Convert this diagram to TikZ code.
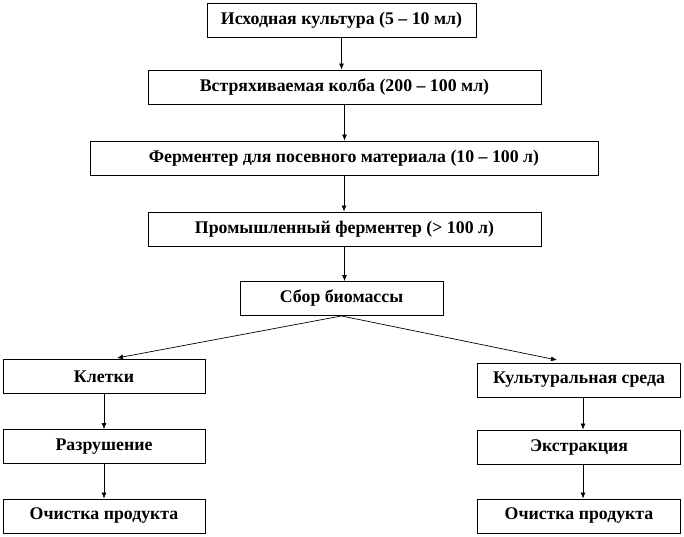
\documentclass[tikz,border=0pt]{standalone}
\usepackage{fontspec}
\setmainfont{Liberation Serif}
\usetikzlibrary{arrows.meta}

\begin{document}
\begin{tikzpicture}[x=1pt, y=-1pt, >={Latex[length=6pt,width=5pt]}]
	\tikzstyle{stage}=[draw, line width=0.9pt, inner sep=0pt, minimum height=34pt, font=\fontsize{17.8}{20}\selectfont\bfseries]
	\tikzstyle{flow}=[->, line width=0.7pt]
	\useasboundingbox (0,0) rectangle (684,536);
	\draw 
	node[stage, minimum width=269pt](A)at(341.5,20){Исходная культура (5 – 10 мл)}
	node[stage, minimum width=393pt](B)at(344.5,87){Встряхиваемая колба (200 – 100 мл)}
	node[stage, minimum width=508pt](C)at(344,158){Ферментер для посевного материала (10 – 100 л)}
	node[stage, minimum width=393pt](D)at(344.5,229){Промышленный ферментер (> 100 л)}
	node[stage, minimum width=203pt](E)at(341.5,298.5){Сбор биомассы}
	node[stage, minimum width=202pt](F)at(104,376.5){Клетки}
	node[stage, minimum width=202pt](G)at(104,446.5){Разрушение}
	node[stage, minimum width=202pt](H)at(104,516){Очистка продукта}
	node[stage, minimum width=203pt](I)at(579,380){Культуральная среда}
	node[stage, minimum width=203pt](J)at(579,447){Экстракция}
	node[stage, minimum width=203pt](K)at(579,516){Очистка продукта};
	
	\coordinate (FL) at (117,358);
	\coordinate (IL) at (557,360);
	
	\draw[flow](A.south)--(A.south |- B.north);
	\draw[flow](B.south)--(B.south |- C.north);
	\draw[flow](C.south)--(C.south |- D.north);
	\draw[flow](D.south)--(D.south |- E.north);
	\draw[flow](E.south)--(FL);
	\draw[flow](E.south)--(IL);
	\draw[flow](F.south)--(G.north);
	\draw[flow](G.south)--(H.north);
	\draw[flow]([xshift=4pt]I.south)--([xshift=4pt]J.north);
	\draw[flow]([xshift=4pt]J.south)--([xshift=4pt]K.north);
\end{tikzpicture}
\end{document}
